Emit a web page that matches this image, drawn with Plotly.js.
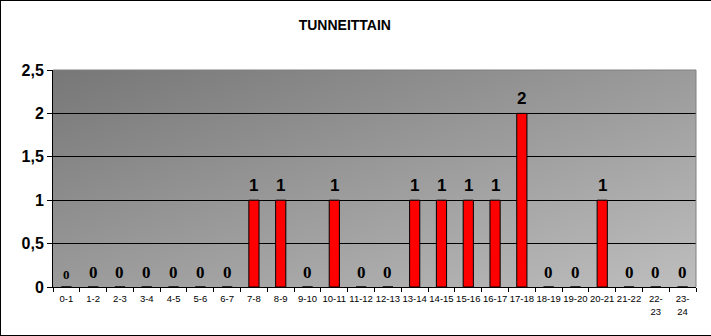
<!DOCTYPE html>
<html>
<head>
<meta charset="utf-8">
<script src="https://cdn.plot.ly/plotly-3.0.1.min.js"></script>
<style>
  html, body { margin: 0; padding: 0; background: #fff; }
  #chart { width: 711px; height: 336px; position: relative; }
  #frame { position: absolute; left: 0; top: 0; width: 711px; height: 336px; box-sizing: border-box;
           border-top: 1px solid #000; border-left: 1px solid #000; border-bottom: 1px solid #000; pointer-events: none; }
</style>
</head>
<body>
<div id="chart"></div>
<div id="frame"></div>
<script>
const categories = ["0-1","1-2","2-3","3-4","4-5","5-6","6-7","7-8","8-9","9-10","10-11","11-12",
  "12-13","13-14","14-15","15-16","16-17","17-18","18-19","19-20","20-21","21-22","22-23","23-24"];
const tickLabels = ["0-1","1-2","2-3","3-4","4-5","5-6","6-7","7-8","8-9","9-10","10-11","11-12",
  "12-13","13-14","14-15","15-16","16-17","17-18","18-19","19-20","20-21","21-22","22-<br>23","23-<br>24"];
const values = [0,0,0,0,0,0,0,1,1,0,1,0,0,1,1,1,1,2,0,0,1,0,0,0];
const yTicks = [0, 0.5, 1, 1.5, 2, 2.5];

const gradSvg = '<svg xmlns="http://www.w3.org/2000/svg" width="644" height="217" preserveAspectRatio="none">' +
  '<defs><linearGradient id="g" x1="0" y1="0" x2="1" y2="1">' +
  '<stop offset="0" stop-color="#777777"/><stop offset="1" stop-color="#bebebe"/></linearGradient></defs>' +
  '<rect width="644" height="217" fill="url(#g)"/></svg>';
const gradUri = 'data:image/svg+xml;base64,' + btoa(gradSvg);

const annotations = categories.map((c, i) => ({
  x: c, y: values[i], xref: 'x', yref: 'y',
  text: String(values[i]), showarrow: false,
  yanchor: 'bottom', yshift: 3,
  font: { family: values[i] === 0 ? 'Liberation Serif' : 'Liberation Sans', size: i === 0 ? 13 : 17, color: '#000', weight: 'bold' }
}));

const trace = {
  type: 'bar',
  x: categories,
  y: values,
  width: 0.38,
  marker: { color: '#ff0000', line: { color: '#000', width: 1 } },
  hoverinfo: 'skip'
};

const layout = {
  width: 711, height: 336,
  margin: { l: 53, r: 15, t: 70, b: 49 },
  paper_bgcolor: '#ffffff',
  plot_bgcolor: 'rgba(0,0,0,0)',
  separators: ', ',
  showlegend: false,
  font: { family: 'Liberation Sans', color: '#000' },
  title: { text: 'TUNNEITTAIN', x: 0.485, xanchor: 'center', y: 0.925, yanchor: 'middle',
           font: { family: 'Liberation Sans', size: 14, weight: 'bold', color: '#000' } },
  xaxis: {
    type: 'category', categoryorder: 'array', categoryarray: categories,
    tickvals: categories, ticktext: tickLabels,
    tickson: 'boundaries', ticks: 'outside', ticklen: 4, tickcolor: '#000',
    tickangle: 0, automargin: false, ticklabelstandoff: 3,
    showline: true, linecolor: '#000', linewidth: 1,
    showgrid: false, zeroline: false,
    tickfont: { size: 9.5, color: '#000' },
    fixedrange: true
  },
  yaxis: {
    range: [0, 2.5], tickvals: yTicks, tickformat: '.1~f',
    ticks: 'outside', ticklen: 5, tickcolor: '#000',
    showline: true, linecolor: '#000', linewidth: 1,
    showgrid: true, gridcolor: '#000', gridwidth: 1,
    zeroline: true, zerolinecolor: '#000',
    tickfont: { size: 16, color: '#000', weight: 'bold' },
    fixedrange: true
  },
  images: [{ source: gradUri, xref: 'paper', yref: 'paper', x: 0, y: 1, sizex: 1, sizey: 1,
             xanchor: 'left', yanchor: 'top', sizing: 'stretch', layer: 'below' }],
  shapes: [
    { type: 'line', xref: 'paper', yref: 'paper', x0: 0, x1: 1, y0: 1, y1: 1, line: { color: '#808080', width: 1 } },
    { type: 'line', xref: 'paper', yref: 'paper', x0: 1, x1: 1, y0: 0, y1: 1, line: { color: '#808080', width: 1 } }
  ],
  annotations: annotations
};

Plotly.newPlot('chart', [trace], layout, { displayModeBar: false, staticPlot: true });
</script>
</body>
</html>
